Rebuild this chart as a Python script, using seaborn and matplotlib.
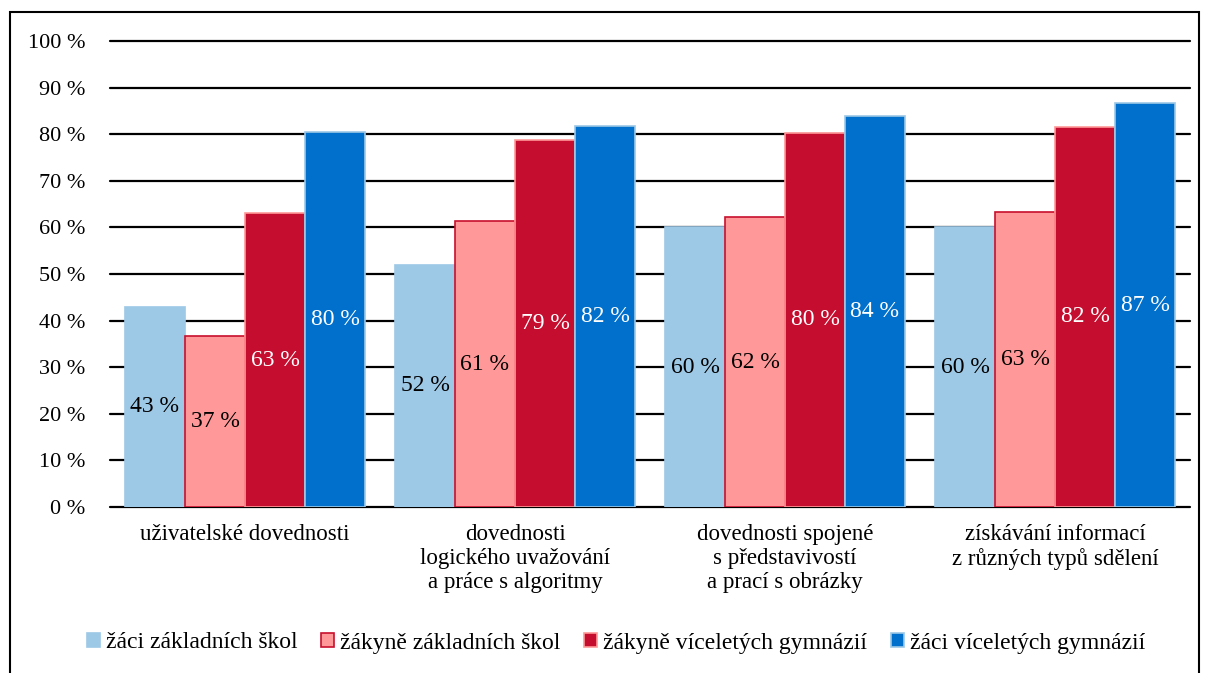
import pandas as pd
import seaborn as sns
from matplotlib import pyplot as plt
from matplotlib.patches import Patch, Rectangle

# Data
kategorie = ['uživatelské dovednosti',
             'dovednosti\nlogického uvažování\na práce s algoritmy',
             'dovednosti spojené\ns představivostí\na prací s obrázky',
             'získávání informací\nz různých typů sdělení']
skupiny = ['žáci základních škol', 'žákyně základních škol',
           'žákyně víceletých gymnázií', 'žáci víceletých gymnázií']
zaci_zs = [43.0, 52.0, 60.0, 60.0]
zakyne_zs = [36.7, 61.3, 62.2, 63.4]
zakyne_gym = [63.0, 78.8, 80.3, 81.6]
zaci_gym = [80.4, 81.8, 83.8, 86.6]
popisky = [['43 %', '52 %', '60 %', '60 %'],
           ['37 %', '61 %', '62 %', '63 %'],
           ['63 %', '79 %', '80 %', '82 %'],
           ['80 %', '82 %', '84 %', '87 %']]
yticks = [0, 10, 20, 30, 40, 50, 60, 70, 80, 90, 100]

barvy = ['#9DC8E6', '#FF9999', '#C50E2F', '#0070CC']
okraje = ['#9DC8E6', '#C8102E', '#FF9999', '#9DC8E6']
barvy_textu = ['black', 'black', 'white', 'white']

df = pd.DataFrame({
    'kategorie': kategorie * 4,
    'skupina': [s for s in skupiny for _ in kategorie],
    'hodnota': zaci_zs + zakyne_zs + zakyne_gym + zaci_gym,
})

sns.set_style('white', rc={'text.color': 'black', 'xtick.color': 'black',
                           'ytick.color': 'black', 'axes.labelcolor': 'black'})
plt.rcParams['font.family'] = ['Liberation Serif', 'DejaVu Serif']

fig = plt.figure(figsize=(12.09, 6.73), dpi=100)
ax = fig.add_axes([110 / 1209, 1 - 507 / 673, 1080 / 1209, 466 / 673])

sns.barplot(data=df, x='kategorie', y='hodnota', hue='skupina',
            hue_order=skupiny, order=kategorie, palette=barvy, saturation=1,
            width=240 / 270, gap=0, legend=False, ax=ax, errorbar=None)

for i, cont in enumerate(ax.containers):
    for bar in cont:
        bar.set_edgecolor(okraje[i])
        bar.set_linewidth(1.2)
        bar.set_zorder(3)
    ax.bar_label(cont, labels=popisky[i], label_type='center',
                 color=barvy_textu[i], fontsize=17, zorder=4)

ax.set_ylim(0, 100)
ax.set_xlim(-0.5, 3.5)
ax.set_yticks(yticks)
ax.set_yticklabels([f'{v} %' for v in yticks], fontsize=16)
ax.tick_params(axis='x', labelsize=16.5, length=0, pad=12, labelcolor='black')
ax.tick_params(axis='y', length=0, pad=18, labelcolor='black')
ax.yaxis.grid(True, color='black', linewidth=1.6)
for gl in ax.get_ygridlines():
    gl.set_clip_on(False)
ax.set_axisbelow(True)
for s in ax.spines.values():
    s.set_visible(False)
ax.set_xlabel('')
ax.set_ylabel('')

# Legenda
handles = [Patch(facecolor=barvy[i], edgecolor=okraje[i], linewidth=1.2, label=skupiny[i])
           for i in range(4)]
fig.legend(handles=handles, loc='center', bbox_to_anchor=(616 / 1209, 1 - 643 / 673),
           ncol=4, frameon=False, fontsize=17, handlelength=0.55, handleheight=0.55,
           handletextpad=0.25, columnspacing=1.0, labelcolor='black')

# Rámeček
fig.add_artist(Rectangle((10 / 1209, -0.1), 1189 / 1209, 1.1 - 12 / 673,
                         transform=fig.transFigure, fill=False,
                         edgecolor='black', linewidth=1.5))

fig.savefig('out.png', dpi=100)
